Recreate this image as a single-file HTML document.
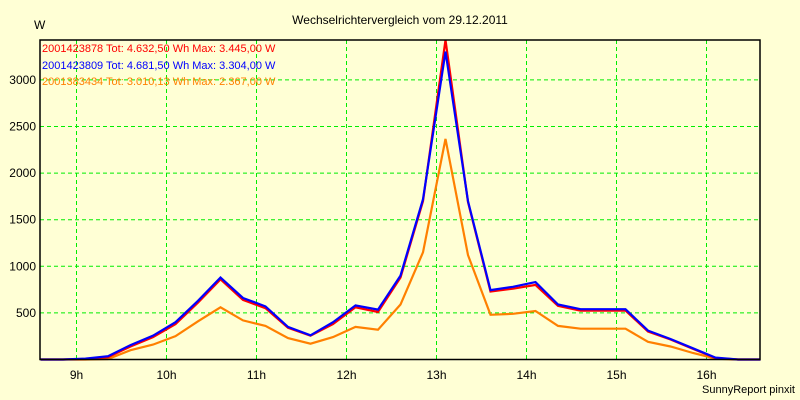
<!DOCTYPE html>
<html><head><meta charset="utf-8"><style>
body{margin:0;background:#ffffd5;}
svg{display:block;font-family:"Liberation Sans",sans-serif;}
</style></head><body>
<svg width="800" height="400" id="chart">
<rect x="0" y="0" width="800" height="400" fill="#ffffd5"/>
<text x="400" y="24" text-anchor="middle" font-size="12" fill="#000">Wechselrichtervergleich vom 29.12.2011</text>
<text x="34" y="29" font-size="12" fill="#000">W</text>
<text x="795" y="393" text-anchor="end" font-size="11" fill="#000">SunnyReport pinxit</text>
<g id="grid"></g><g id="series"></g>
<rect x="40" y="40" width="720" height="319.5" fill="none" stroke="#000" stroke-width="1.5"/>
<g font-size="11">
<text x="42" y="52" fill="#ff0000">2001423878 Tot: 4.632,50 Wh Max: 3.445,00 W</text>
<text x="42" y="69" fill="#0000ff">2001423809 Tot: 4.681,50 Wh Max: 3.304,00 W</text>
<text x="42" y="85" fill="#ff8000">2001383434 Tot: 3.010,13 Wh Max: 2.367,00 W</text>
</g>
</svg>
<script>
const startHour = 8.6;
const stepHours = 0.25;
const redValues = [0,0,5,25,140,240,380,610,860,640,550,340,255,380,560,510,880,1700,3445,1690,730,760,800,575,525,525,525,300,215,115,15,0,0];
const blueValues = [0,0,10,35,155,255,400,630,880,660,570,350,260,400,580,535,900,1720,3304,1700,745,780,830,590,540,540,540,310,220,120,20,0,0];
const orangeValues = [0,0,0,5,100,160,250,410,560,420,360,230,170,240,350,320,590,1150,2367,1120,480,490,520,360,330,330,330,190,140,70,10,0,0];
const yTicks = [500,1000,1500,2000,2500,3000];
const xTicks = [9,10,11,12,13,14,15,16];
const xTickLabels = ["9h","10h","11h","12h","13h","14h","15h","16h"];
const NS="http://www.w3.org/2000/svg";
const x = h => 40 + (h - 8.5944) * 90;
const y = v => Math.max(40, 359.5 - v * 0.0932);
const grid=document.getElementById('grid'), ser=document.getElementById('series');
yTicks.forEach(t=>{
  const l=document.createElementNS(NS,'line');
  
  
  l.setAttribute('x1',40);l.setAttribute('x2',760);l.setAttribute('y1',y(t));l.setAttribute('y2',y(t));
  l.setAttribute('stroke','#00ee00');l.setAttribute('stroke-dasharray','4,3');grid.appendChild(l);
  const s=document.createElementNS(NS,'text');
  
  
  s.setAttribute('x',36);s.setAttribute('y',y(t)+4);s.setAttribute('text-anchor','end');s.setAttribute('font-size','12');
  s.textContent=t;grid.appendChild(s);
});
xTicks.forEach((t,i)=>{
  const l=document.createElementNS(NS,'line');
  
  
  l.setAttribute('x1',x(t));l.setAttribute('x2',x(t));l.setAttribute('y1',40);l.setAttribute('y2',359.5);
  l.setAttribute('stroke','#00ee00');l.setAttribute('stroke-dasharray','4,3');grid.appendChild(l);
  const s=document.createElementNS(NS,'text');
  
  
  s.setAttribute('x',x(t));s.setAttribute('y',379);s.setAttribute('text-anchor','middle');s.setAttribute('font-size','12');
  s.textContent=xTickLabels[i];grid.appendChild(s);
});
function draw(vals,color,name){
  const p=document.createElementNS(NS,'polyline');
  
  
  p.setAttribute('points',vals.map((v,i)=>x(startHour+i*stepHours).toFixed(1)+','+y(v).toFixed(1)).join(' '));
  p.setAttribute('fill','none');p.setAttribute('stroke',color);p.setAttribute('stroke-width','2.2');
  ser.appendChild(p);
}
draw(orangeValues,'#ff8000','series-orange-line');
draw(redValues,'#ff0000','series-red-line');
draw(blueValues,'#0000ff','series-blue-line');
</script>
</body></html>
